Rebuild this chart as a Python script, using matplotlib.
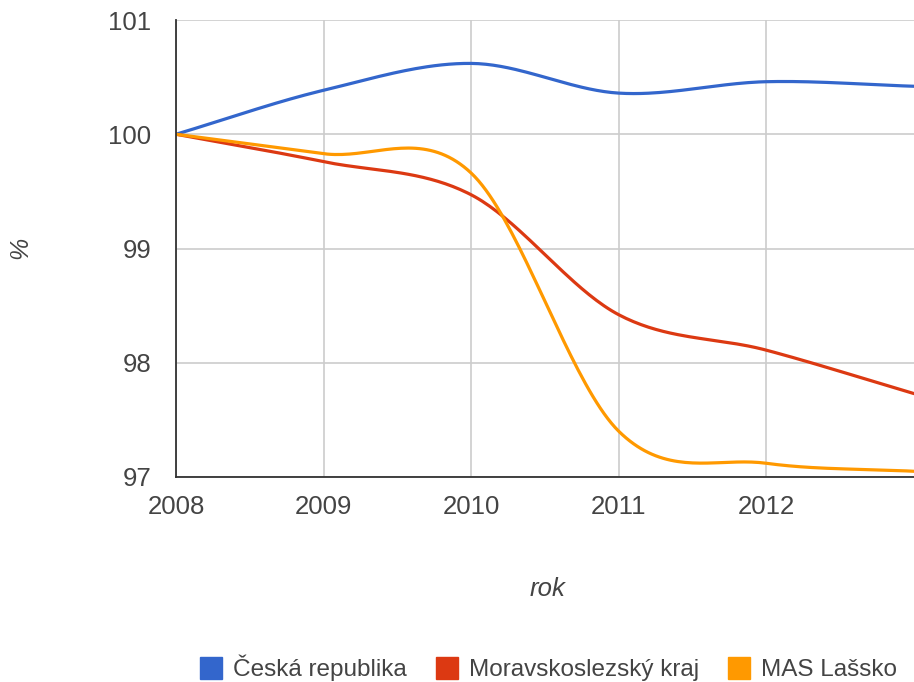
import numpy as np
import matplotlib
matplotlib.use('Agg')
import matplotlib.pyplot as plt
from matplotlib.lines import Line2D

plt.rcParams['font.family'] = ['Liberation Sans', 'DejaVu Sans']

years = [2008, 2009, 2010, 2011, 2012, 2013]
ceska_republika = [100.0, 100.385, 100.62, 100.36, 100.46, 100.42]
moravskoslezsky = [100.0, 99.76, 99.47, 98.42, 98.11, 97.73]
mas_lassko = [100.0, 99.83, 99.66, 97.40, 97.12, 97.05]

series_names = ['Česká republika', 'Moravskoslezský kraj', 'MAS Lašsko']
colors = ['#3366CC', '#DC3912', '#FF9900']
yticks = [97, 98, 99, 100, 101]
xticks = [2008, 2009, 2010, 2011, 2012]

text_col = '#444444'


def smooth(x, y, n=40):
    # catmull-rom like google "function" curve
    x = np.asarray(x, float)
    y = np.asarray(y, float)
    m = np.zeros_like(y)
    m[1:-1] = (y[2:] - y[:-2]) / (x[2:] - x[:-2])
    m[0] = (y[1] - y[0]) / (x[1] - x[0])
    m[-1] = (y[-1] - y[-2]) / (x[-1] - x[-2])
    xs, ys = [], []
    for i in range(len(x) - 1):
        h = x[i + 1] - x[i]
        t = np.linspace(0, 1, n, endpoint=(i == len(x) - 2))
        h00 = 2 * t**3 - 3 * t**2 + 1
        h10 = t**3 - 2 * t**2 + t
        h01 = -2 * t**3 + 3 * t**2
        h11 = t**3 - t**2
        xs.append(x[i] + t * h)
        ys.append(h00 * y[i] + h10 * h * m[i] + h01 * y[i + 1] + h11 * h * m[i + 1])
    return np.concatenate(xs), np.concatenate(ys)


fig = plt.figure(figsize=(9.14, 6.82), dpi=100)
ax = fig.add_axes([176 / 914, 205 / 682, 738 / 914, 457 / 682])

for vals, c in zip([ceska_republika, moravskoslezsky, mas_lassko], colors):
    sx, sy = smooth(years, vals)
    ax.plot(sx, sy, color=c, lw=2.3, solid_capstyle='round', zorder=3)

ax.set_xlim(2008, 2013)
ax.set_ylim(97, 101)
ax.set_xticks(xticks)
ax.set_yticks(yticks)
ax.set_xticklabels([str(v) for v in xticks])
ax.set_yticklabels([str(v) for v in yticks])
ax.tick_params(length=0, labelsize=18.5, colors=text_col)
ax.tick_params(axis='y', pad=18)
ax.tick_params(axis='x', pad=13)
ax.grid(True, color='#cccccc', lw=1.2)
ax.set_axisbelow(True)
for s in ['top', 'right']:
    ax.spines[s].set_visible(False)
for s in ['left', 'bottom']:
    ax.spines[s].set_color('#333333')
    ax.spines[s].set_linewidth(1.3)
    ax.spines[s].set_zorder(4)

fig.text(20 / 914, 1 - 248 / 682, '%', rotation=90, style='italic',
         fontsize=18, color=text_col, ha='center', va='center')
fig.text(548 / 914, 1 - 589 / 682, 'rok', style='italic',
         fontsize=18.5, color=text_col, ha='center', va='center')

handles = [Line2D([], [], marker='s', ls='', color=c, markersize=16) for c in colors]
fig.legend(handles, series_names, loc='center', bbox_to_anchor=(548 / 914, 1 - 668 / 682),
           ncol=3, frameon=False, fontsize=17.5, labelcolor=text_col,
           handletextpad=0.4, columnspacing=1.15, handlelength=1.0)

fig.savefig('out.png', dpi=100)
